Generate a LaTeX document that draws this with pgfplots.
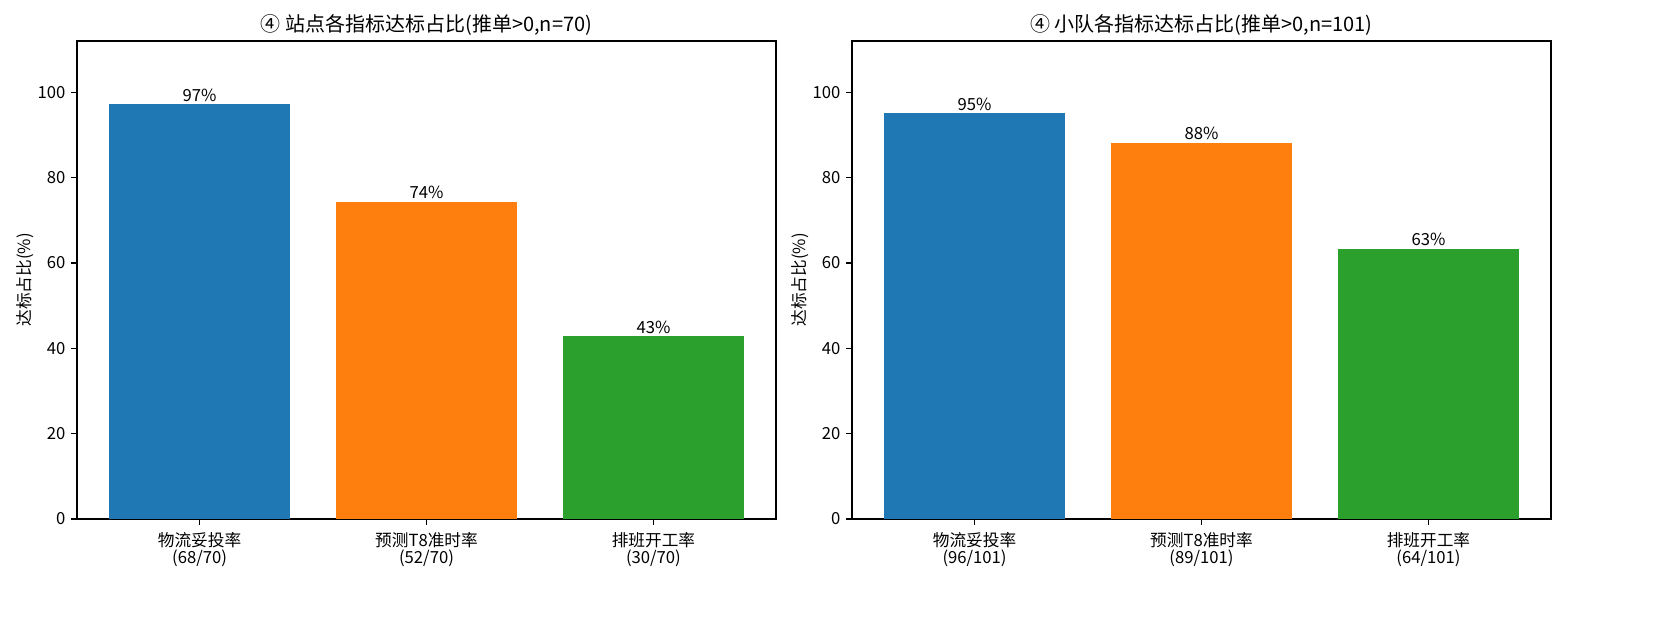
\documentclass[border=0pt]{standalone}
\usepackage{pgfplots}
\pgfplotsset{compat=1.18}
\usepackage{fontspec}
\setmainfont{Noto Sans CJK SC}
\definecolor{cb}{HTML}{1F77B4}
\definecolor{co}{HTML}{FF7F0E}
\definecolor{cg}{HTML}{2CA02C}
\pgfplotsset{mybar/.style={
  scale only axis, width=419.4pt, height=286.8pt, anchor=south west,
  xmin=-0.54, xmax=2.54, ymin=0, ymax=112,
  xtick={0,1,2}, ytick={0,20,40,60,80,100},
  tick align=outside, tick pos=left, major tick length=3.5pt,
  every tick/.style={black, line width=0.8pt},
  axis line style={line width=0.8pt},
  /pgf/number format/assume math mode=true,
  tick label style={font=\fontsize{10}{10.2}\selectfont},
  xticklabel style={align=center, yshift=-1pt},
  ylabel style={at={(axis description cs:-0.074,0.5)}, anchor=center, font=\fontsize{10}{11}\selectfont},
  every axis title/.style={font=\fontsize{12}{13}\selectfont, at={(0.5,1)}, anchor=base, yshift=5.4pt},
  nodes near coords, point meta=explicit symbolic,
  every node near coord/.append style={font=\fontsize{10}{11}\selectfont, inner sep=1.5pt},
}}
\begin{document}
\begin{tikzpicture}
\path[use as bounding box] (0,0) rectangle (1008pt,374.4pt);
\begin{axis}[mybar, at={(46.2pt,63pt)},
  title={④ 站点各指标达标占比(推单>0,n=70)},
  ylabel={达标占比(\%)},
  xticklabels={{物流妥投率\\(68/70)},{预测T8准时率\\(52/70)},{排班开工率\\(30/70)}}]
\addplot[ybar, bar width=0.8, bar shift=0pt, fill=cb, draw=none] coordinates {(0,97.14) [97\%]};
\addplot[ybar, bar width=0.8, bar shift=0pt, fill=co, draw=none] coordinates {(1,74.29) [74\%]};
\addplot[ybar, bar width=0.8, bar shift=0pt, fill=cg, draw=none] coordinates {(2,42.86) [43\%]};
\end{axis}
\begin{axis}[mybar, at={(511.2pt,63pt)},
  title={④ 小队各指标达标占比(推单>0,n=101)},
  ylabel={达标占比(\%)},
  xticklabels={{物流妥投率\\(96/101)},{预测T8准时率\\(89/101)},{排班开工率\\(64/101)}}]
\addplot[ybar, bar width=0.8, bar shift=0pt, fill=cb, draw=none] coordinates {(0,95.05) [95\%]};
\addplot[ybar, bar width=0.8, bar shift=0pt, fill=co, draw=none] coordinates {(1,88.12) [88\%]};
\addplot[ybar, bar width=0.8, bar shift=0pt, fill=cg, draw=none] coordinates {(2,63.37) [63\%]};
\end{axis}
\end{tikzpicture}
\end{document}
